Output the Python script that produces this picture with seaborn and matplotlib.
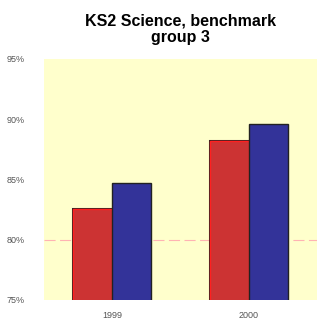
import numpy as np
import matplotlib
matplotlib.use("Agg")
import matplotlib.pyplot as plt
import matplotlib.patheffects as pe
import pandas as pd
import seaborn as sns

# data
years = ["1999", "2000"]
series = ["School", "Benchmark"]
school = [82.5, 88.2]
benchmark = [84.7, 89.6]
yticks = [75, 80, 85, 90, 95]

df = pd.DataFrame({
    "year": years * 2,
    "series": [series[0]] * 2 + [series[1]] * 2,
    "value": school + benchmark,
})

sns.set_style("white")
plt.rcParams['font.family'] = ['Liberation Sans', 'DejaVu Sans']

fig = plt.figure(figsize=(3.17, 3.27), dpi=100)
ax = fig.add_axes([0.139, 0.083, 0.861, 0.737])
ax.set_facecolor("#FFFFCC")

sns.barplot(data=df, x="year", y="value", hue="series",
            palette=["#CC3333", "#333399"], saturation=1, width=0.57,
            edgecolor="#222222", linewidth=1.0, ax=ax, legend=False, zorder=3)
# red bars: dark outline with a bright red rim inside
for p in ax.patches[:2]:
    p.set_edgecolor("#FF2020")
    p.set_linewidth(1.0)
    p.set_path_effects([pe.Stroke(linewidth=2.2, foreground="#3a2222"), pe.Normal()])

ax.axhline(80, color="#FFB3B3", linestyle=(0, (10, 4)), linewidth=0.8, zorder=1)

ax.set_ylim(75, 95)
ax.set_xlim(-0.5, 1.5)
ax.set_yticks(yticks)
ax.set_yticklabels([f"{v}%" for v in yticks], fontsize=6.5, color="#555555")
ax.tick_params(axis="x", labelsize=6.5, colors="#555555", pad=8, length=0)
ax.tick_params(axis="y", length=0, pad=14)
ax.set_xlabel("")
ax.set_ylabel("")
for s in ax.spines.values():
    s.set_visible(False)

fig.suptitle("KS2 Science, benchmark\ngroup 3", fontsize=11.5, fontweight="bold",
             color="black", x=0.57, y=0.96, linespacing=1.15)

fig.savefig("out.png", dpi=100)
